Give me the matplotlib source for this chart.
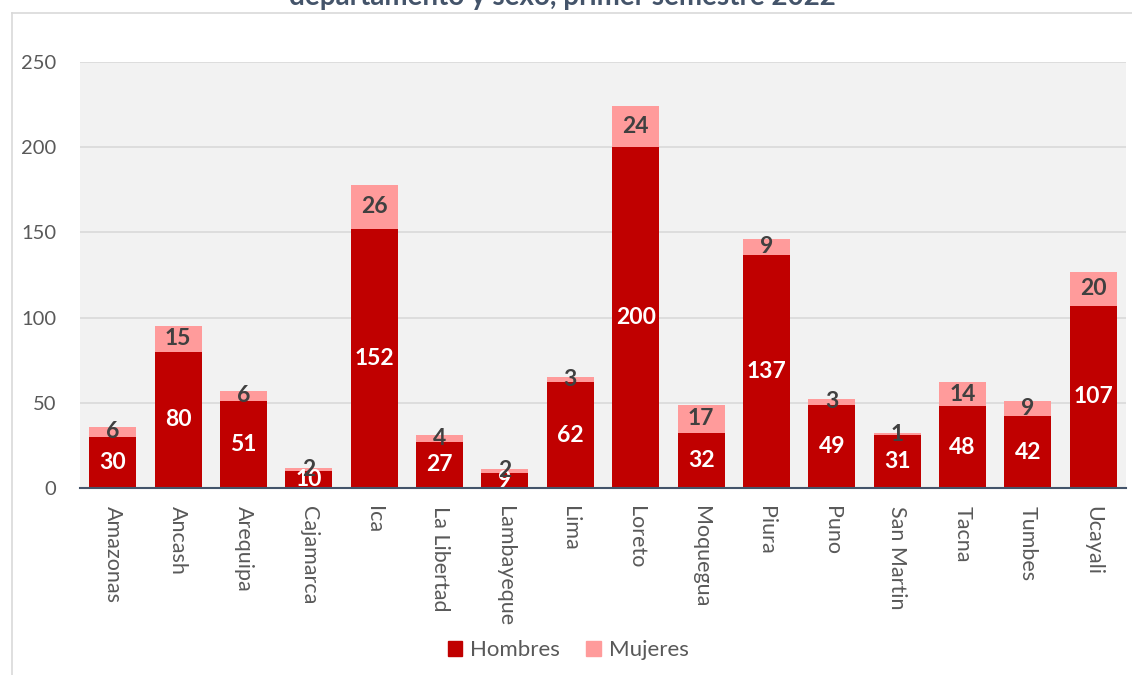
import matplotlib
matplotlib.use('Agg')
import matplotlib.pyplot as plt
from matplotlib.lines import Line2D
import numpy as np

plt.rcParams['font.family'] = ['Lato', 'DejaVu Sans']

departamentos = ['Amazonas', 'Ancash', 'Arequipa', 'Cajamarca', 'Ica', 'La Libertad',
                 'Lambayeque', 'Lima', 'Loreto', 'Moquegua', 'Piura', 'Puno',
                 'San Martin', 'Tacna', 'Tumbes', 'Ucayali']
hombres = [30, 80, 51, 10, 152, 27, 9, 62, 200, 32, 137, 49, 31, 48, 42, 107]
mujeres = [6, 15, 6, 2, 26, 4, 2, 3, 24, 17, 9, 3, 1, 14, 9, 20]
yticks = [0, 50, 100, 150, 200, 250]

COL_H = '#C00000'
COL_M = '#FF9B9B'
GREY = '#595959'

W, H = 1132, 675
fig = plt.figure(figsize=(W / 100, H / 100), dpi=100)
ax = fig.add_axes([80 / W, 1 - 488 / H, (1126 - 80) / W, (488 - 62) / H])
ax.set_facecolor('#F2F2F2')

x = np.arange(len(departamentos))
h = np.array(hombres)
m = np.array(mujeres)
ax.bar(x, h, width=0.72, color=COL_H, zorder=3)
ax.bar(x, m, width=0.72, bottom=h, color=COL_M, zorder=3)

for xi, hv, mv in zip(x, h, m):
    ax.text(xi, hv / 2, str(hv), ha='center', va='center', color='white',
            fontsize=16.5, fontweight='bold', zorder=5)
    ax.text(xi, hv + mv / 2, str(mv), ha='center', va='center', color='#404040',
            fontsize=16.5, fontweight='bold', zorder=5)

ax.set_xlim(-0.5, len(departamentos) - 0.5)
ax.set_ylim(0, 250)
ax.set_yticks(yticks)
ax.yaxis.grid(True, color='#D9D9D9', linewidth=1.2, zorder=0)
ax.set_axisbelow(True)
ax.set_xticks(x)
ax.set_xticklabels(departamentos, rotation=-90, color=GREY, fontsize=15.5)
ax.tick_params(axis='x', length=0, pad=13)
ax.tick_params(axis='y', length=0, pad=17, labelcolor=GREY, labelsize=14.5)
for s in ['top', 'right', 'left']:
    ax.spines[s].set_visible(False)
ax.spines['bottom'].set_color('#44546A')
ax.spines['bottom'].set_linewidth(1.5)
ax.spines['bottom'].set_zorder(6)

# chart frame
fig.add_artist(Line2D([11.5 / W, 11.5 / W], [0, 1 - 12.5 / H], color='#D9D9D9',
                      linewidth=1.2, transform=fig.transFigure))
fig.add_artist(Line2D([11.5 / W, 1], [1 - 12.5 / H, 1 - 12.5 / H], color='#D9D9D9',
                      linewidth=1.2, transform=fig.transFigure))

fig.text(562 / W, 1 - 5 / H, 'departamento y sexo, primer semestre 2022',
         ha='center', va='baseline', color='#44546A', fontsize=20, fontweight='bold')

handles = [plt.Rectangle((0, 0), 1, 1, color=COL_H), plt.Rectangle((0, 0), 1, 1, color=COL_M)]
fig.legend(handles, ['Hombres', 'Mujeres'], loc='center', bbox_to_anchor=(568 / W, 1 - 650 / H),
           ncol=2, frameon=False, fontsize=16, handlelength=0.65, handleheight=0.65,
           handletextpad=0.35, columnspacing=1.2, labelcolor=GREY)

fig.savefig('out.png', dpi=100)
